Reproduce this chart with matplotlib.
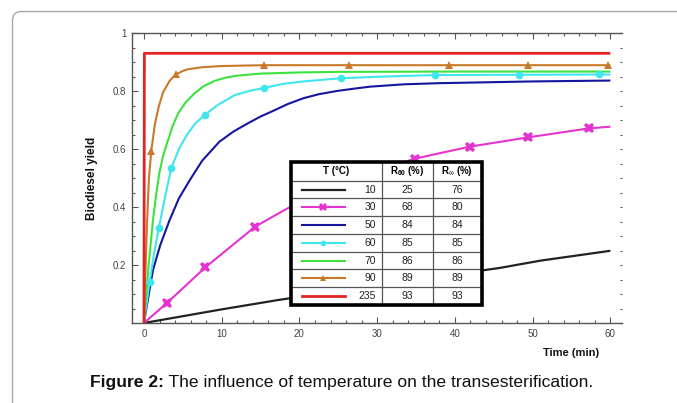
import matplotlib
matplotlib.use("Agg")
import matplotlib.pyplot as plt
from matplotlib.patches import FancyBboxPatch, Rectangle
from matplotlib.ticker import MultipleLocator

plt.rcParams['font.family'] = ['Liberation Sans', 'DejaVu Sans']
plt.rcParams['mathtext.fontset'] = 'custom'
plt.rcParams['mathtext.rm'] = 'Liberation Sans'
plt.rcParams['mathtext.it'] = 'Liberation Sans:italic'
plt.rcParams['mathtext.bf'] = 'Liberation Sans:bold'

# ---------------- data ----------------
temps = ["10", "30", "50", "60", "70", "90", "235"]
r60 = ["25", "68", "84", "85", "86", "89", "93"]
rinf = ["76", "80", "84", "85", "86", "89", "93"]

t_10 = [0, 10, 17.2, 30, 45.8, 51, 60]
y_10 = [0, 0.047, 0.079, 0.13, 0.19, 0.215, 0.249]

t_30 = [0, 3.0, 7.9, 14.3, 18.1, 21.3, 28.2, 34.9, 41.9, 49.4, 57.2, 60]
y_30 = [0, 0.07, 0.192, 0.332, 0.39, 0.435, 0.51, 0.567, 0.608, 0.64, 0.671, 0.677]
tm_30 = [3.0, 7.9, 14.3, 21.3, 28.2, 34.9, 41.9, 49.4, 57.2]
ym_30 = [0.07, 0.192, 0.332, 0.435, 0.51, 0.567, 0.608, 0.64, 0.671]

t_50 = [0, 0.43, 1.16, 2.1, 3.3, 4.5, 5.9, 7.5, 9.7, 11.5, 13.4, 15, 16.5, 18.5, 20.5,
        22.5, 24.8, 27, 29.1, 33.4, 38, 42, 50, 60]
y_50 = [0, 0.069, 0.183, 0.269, 0.355, 0.43, 0.493, 0.56, 0.625, 0.66, 0.689, 0.712, 0.73,
        0.755, 0.775, 0.789, 0.80, 0.808, 0.815, 0.823, 0.827, 0.829, 0.833, 0.836]

t_60 = [0, 0.73, 1.3, 1.9, 2.6, 3.5, 4.5, 5.5, 6.6, 7.8, 9.5, 11.7, 13.5, 15.5, 18, 20.5,
        25.3, 30, 37.4, 48.3, 60]
y_60 = [0, 0.142, 0.24, 0.326, 0.42, 0.533, 0.6, 0.648, 0.688, 0.717, 0.752, 0.786, 0.80,
        0.811, 0.825, 0.833, 0.844, 0.849, 0.855, 0.856, 0.857]
tm_60 = [0.73, 1.9, 3.5, 7.8, 15.5, 25.3, 37.4, 48.3, 58.5]
ym_60 = [0.142, 0.326, 0.533, 0.717, 0.811, 0.844, 0.855, 0.856, 0.857]

t_70 = [0, 0.3, 0.6, 1.16, 1.6, 2.0, 2.5, 3.1, 3.7, 4.4, 5.4, 6.5, 7.7, 9.1, 10.5, 12, 15,
        20, 25, 40, 60]
y_70 = [0, 0.1, 0.2, 0.355, 0.45, 0.52, 0.58, 0.631, 0.68, 0.723, 0.762, 0.792, 0.817,
        0.835, 0.846, 0.853, 0.86, 0.864, 0.866, 0.867, 0.867]

t_90 = [0, 0.2, 0.4, 0.64, 0.94, 1.4, 1.9, 2.45, 3.3, 4.16, 5.0, 5.66, 7.5, 9.9, 15.5, 60]
y_90 = [0, 0.18, 0.35, 0.5, 0.593, 0.685, 0.746, 0.795, 0.835, 0.858, 0.869, 0.875, 0.882,
        0.886, 0.889, 0.889]
tm_90 = [0.94, 4.16, 15.5, 26.4, 39.2, 49.4, 59.7]
ym_90 = [0.593, 0.858, 0.889, 0.889, 0.889, 0.889, 0.889]

t_235 = [0, 0.05, 60]
y_235 = [0, 0.93, 0.93]

x_ticks = [0, 10, 20, 30, 40, 50, 60]
y_ticks = [0.2, 0.4, 0.6, 0.8, 1.0]
y_ticklabels = ["0.2", "0.4", "0.6", "0.8", "1"]

# ---------------- styles ----------------
colors = {"10": "#222222", "30": "#e533cf", "50": "#1515a0", "60": "#3fe6ee",
          "70": "#3ee23e", "90": "#c87a2a", "235": "#e02424"}
markers = {"10": None, "30": "X", "50": None, "60": "o", "70": None, "90": "^", "235": None}
msizes = {"30": 7.5, "60": 5.5, "90": 6}
lws = {"10": 1.6, "30": 1.5, "50": 1.5, "60": 1.5, "70": 1.5, "90": 1.5, "235": 2.0}

W, H = 677, 403
fig = plt.figure(figsize=(W / 100, H / 100), dpi=100)

# background frame
bg = fig.add_axes([0, 0, 1, 1], zorder=-10)
bg.set_xlim(0, W)
bg.set_ylim(H, 0)
bg.axis('off')
bg.add_patch(FancyBboxPatch((12.5, 11.5), 720, 440, boxstyle='round,pad=0,rounding_size=9',
                            fc='white', ec='#a8a8a8', lw=1.0))

ax = fig.add_axes([132 / W, 1 - 323 / H, 490 / W, 290 / H])
ax.set_facecolor('none')
ax.set_xlim(-1.54, 61.5)
ax.set_ylim(0, 1)

series = [("10", t_10, y_10), ("30", t_30, y_30), ("50", t_50, y_50), ("60", t_60, y_60),
          ("70", t_70, y_70), ("90", t_90, y_90), ("235", t_235, y_235)]
for key, tt, yy in series:
    ax.plot(tt, yy, color=colors[key], lw=lws[key], solid_capstyle='butt',
            solid_joinstyle='round', zorder=3)
ax.plot(tm_30, ym_30, ls='none', marker='X', ms=msizes["30"], color=colors["30"], mew=0, zorder=4)
ax.plot(tm_60, ym_60, ls='none', marker='o', ms=msizes["60"], color=colors["60"], mew=0, zorder=4)
ax.plot(tm_90, ym_90, ls='none', marker='^', ms=msizes["90"], color=colors["90"], mew=0, zorder=4)

for s in ['left', 'bottom', 'top']:
    ax.spines[s].set_color('#555555')
    ax.spines[s].set_linewidth(1.0)
ax.spines['right'].set_visible(False)

ax.set_xticks(x_ticks)
ax.set_xticklabels([str(v) for v in x_ticks])
ax.xaxis.set_minor_locator(MultipleLocator(2))
ax.set_yticks(y_ticks)
ax.set_yticklabels(y_ticklabels)
ax.yaxis.set_minor_locator(MultipleLocator(0.05))
ax.tick_params(which='both', direction='in', top=True, right=True, color='#555555',
               labelcolor='#444444', labelsize=7)
ax.tick_params(which='major', length=4, width=0.8)
ax.tick_params(which='minor', length=2.5, width=0.8)
ax.tick_params(axis='y', pad=4)
ax.tick_params(axis='x', pad=4)
for tk in ax.yaxis.get_major_ticks() + ax.yaxis.get_minor_ticks():
    tk.tick2line.set_markersize(1.5)

fig.text(92 / W, 1 - 178 / H, 'Biodiesel yield', rotation=90, fontweight='bold',
         fontsize=8.5, ha='center', va='center', color='#111111')
fig.text(571 / W, 1 - 353 / H, 'Time (min)', fontweight='bold', fontsize=8,
         ha='center', va='center', color='#111111')

# caption
cap = fig.text(90 / W, 1 - 383 / H, 'Figure 2:', fontweight='bold', fontsize=12.6,
               ha='left', va='center', color='#111111')
bg.annotate(' The influence of temperature on the transesterification.', xy=(1, 0.5),
            xycoords=cap, ha='left', va='center', fontsize=12.6, color='#111111')

# ---------------- table ----------------
tx0, tx1, ty0, ty1 = 291, 481.7, 161.7, 305
tab = fig.add_axes([tx0 / W, 1 - ty1 / H, (tx1 - tx0) / W, (ty1 - ty0) / H])
tab.set_xlim(tx0, tx1)
tab.set_ylim(ty1, ty0)
tab.set_facecolor('white')
for s in tab.spines.values():
    s.set_visible(False)
tab.set_xticks([])
tab.set_yticks([])

head_bottom = 180.7
nrows = len(temps)
row_h = (ty1 - head_bottom) / nrows
col1, col2 = 381.7, 432.7
for i in range(nrows):
    yb = head_bottom + i * row_h
    tab.plot([tx0, tx1], [yb, yb], color='#555555', lw=0.9, clip_on=False)
tab.plot([col1, col1], [ty0, ty1], color='#555555', lw=0.9)
tab.plot([col2, col2], [ty0, ty1], color='#555555', lw=0.9)
tab.add_patch(Rectangle((tx0, ty0), tx1 - tx0, ty1 - ty0, fill=False, ec='black', lw=2.6,
                        clip_on=False, zorder=5))

hy = (ty0 + head_bottom) / 2
tab.text(336.5, hy, 'T (°C)', ha='center', va='center', fontsize=7, fontweight='bold')
tab.text(407, hy, r'R$_{\mathregular{60}}$ (%)', ha='center', va='center', fontsize=7, fontweight='bold')
tab.text(457, hy, r'R$_{\infty}$ (%)', ha='center', va='center', fontsize=7, fontweight='bold')

for i, key in enumerate(temps):
    yc = head_bottom + (i + 0.5) * row_h
    tab.plot([301.7, 345], [yc, yc], color=colors[key], lw=lws[key])
    if markers[key]:
        tab.plot([323.3], [yc], ls='none', marker=markers[key], ms=msizes[key] - 1.5,
                 color=colors[key], mew=0)
    tab.text(376, yc, key, ha='right', va='center', fontsize=7.5, color='#222222')
    tab.text(407, yc, r60[i], ha='center', va='center', fontsize=7.5, color='#222222')
    tab.text(457, yc, rinf[i], ha='center', va='center', fontsize=7.5, color='#222222')

fig.savefig('out.png', dpi=100)
